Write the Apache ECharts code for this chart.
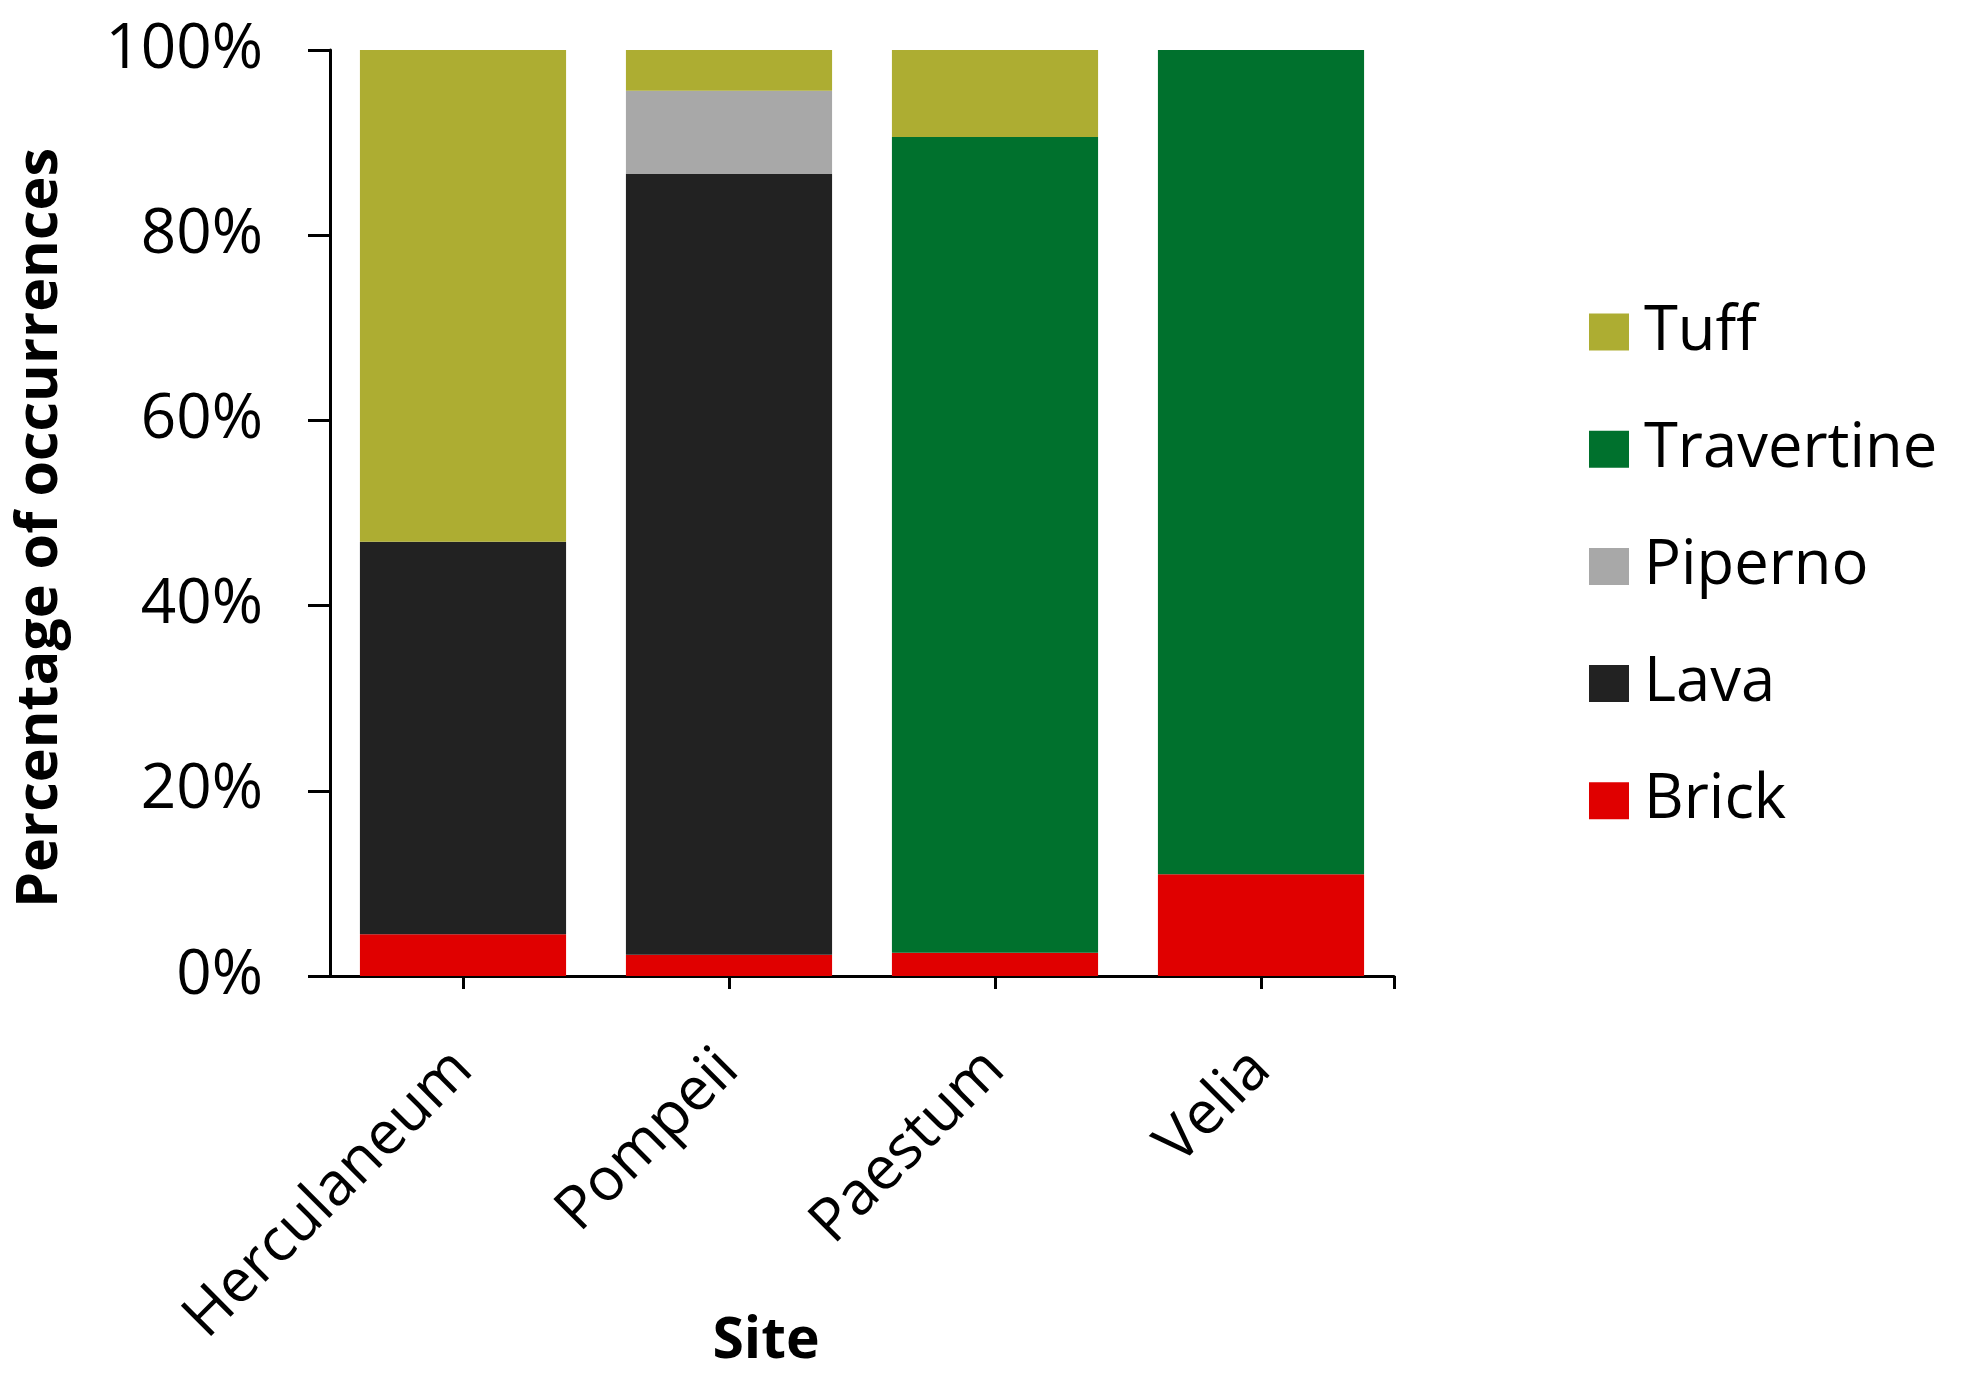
<!DOCTYPE html>
<html>
<head>
<meta charset="utf-8">
<script src="https://cdn.jsdelivr.net/npm/echarts@6/dist/echarts.min.js"></script>
<style>
  html, body { margin: 0; padding: 0; background: #fff; }
  #chart { width: 1961px; height: 1385px; }
</style>
</head>
<body>
<div id="chart"></div>
<script>
const sites = ['Herculaneum', 'Pompeii', 'Paestum', 'Velia'];
const brick = [4.5, 2.3, 2.5, 11.0];
const lava = [42.4, 84.3, 0, 0];
const piperno = [0, 9.0, 0, 0];
const travertine = [0, 0, 88.1, 89.0];
const tuff = [53.1, 4.4, 9.4, 0];
const legendOrder = ['Tuff', 'Travertine', 'Piperno', 'Lava', 'Brick'];

const FONT = '"Open Sans", "Noto Sans", sans-serif';

function stackBar(name, data, color) {
  return {
    name,
    type: 'bar',
    stack: 'total',
    data,
    barCategoryGap: '22.5%',
    itemStyle: { color },
    xAxisIndex: 0,
    yAxisIndex: 0
  };
}

const chart = echarts.init(document.getElementById('chart'));
chart.setOption({
  animation: false,
  textStyle: { fontFamily: FONT },
  grid: { left: 330, right: 567, top: 50, bottom: 409, containLabel: false, outerBoundsMode: 'none' },
  legend: {
    orient: 'vertical',
    left: 1584,
    top: 296,
    data: legendOrder,
    icon: 'rect',
    itemWidth: 40,
    itemHeight: 37,
    itemGap: 55.2,
    selectedMode: false,
    textStyle: { color: '#000', fontSize: 61.5, lineHeight: 62, fontFamily: FONT, padding: [0, 0, 0, 10] }
  },
  xAxis: [
    {
      type: 'category',
      data: sites,
      name: 'Site',
      nameLocation: 'middle',
      nameGap: 337,
      nameMoveOverlap: false,
      nameTextStyle: { color: '#000', fontSize: 57, fontWeight: 'bold', fontFamily: FONT, padding: [0, 192, 0, 0] },
      axisLine: { show: true, lineStyle: { color: '#000', width: 3 } },
      axisTick: { show: true, alignWithLabel: true, length: 13, lineStyle: { color: '#000', width: 3 } },
      axisLabel: { rotate: 45, margin: 84, color: '#000', fontSize: 60, fontFamily: FONT, interval: 0 },
      splitLine: { show: false }
    },
    {
      // only supplies the closing tick at the right end of the axis
      type: 'value',
      position: 'bottom',
      min: 0,
      max: 4,
      axisLine: { show: false },
      axisLabel: { show: false },
      splitLine: { show: false },
      axisTick: { show: true, customValues: [4], length: 13, lineStyle: { color: '#000', width: 3 } }
    }
  ],
  yAxis: {
    type: 'value',
    min: 0,
    max: 100,
    interval: 20,
    name: 'Percentage of occurrences',
    nameLocation: 'middle',
    nameGap: 260,
    nameMoveOverlap: false,
    nameTextStyle: { color: '#000', fontSize: 57.5, fontWeight: 'bold', fontFamily: FONT, padding: [0, 30, 0, 0] },
    axisLine: { show: true, lineStyle: { color: '#000', width: 3 } },
    axisTick: { show: true, length: 22, lineStyle: { color: '#000', width: 3 } },
    axisLabel: { formatter: '{value}%', margin: 67, color: '#000', fontSize: 62, fontFamily: FONT },
    splitLine: { show: false }
  },
  series: [
    stackBar('Brick', brick, '#E00000'),
    stackBar('Lava', lava, '#222222'),
    stackBar('Piperno', piperno, '#A8A8A8'),
    stackBar('Travertine', travertine, '#00712D'),
    stackBar('Tuff', tuff, '#ADAD32')
  ]
});
window.addEventListener('resize', () => chart.resize());
</script>
</body>
</html>
